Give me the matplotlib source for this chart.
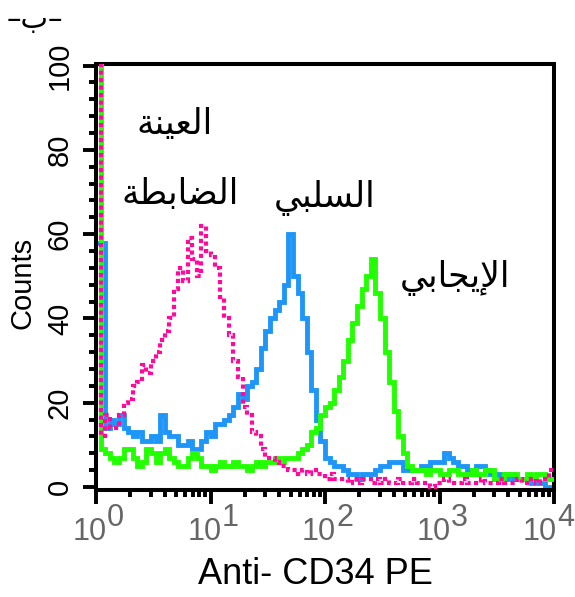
import numpy as np
import matplotlib
matplotlib.use("Agg")
import matplotlib.pyplot as plt
from matplotlib.ticker import LogLocator, MultipleLocator, NullFormatter

# Fluorescence histograms (counts per channel), 100 log channels over 4 decades
control = [
    110, 12, 17, 14, 14, 17, 20, 21, 24, 25,
    29, 27, 30, 32, 35, 37, 40, 47, 52, 49,
    59, 54, 50, 62, 56, 55, 52, 45, 40, 36,
    30, 26, 19, 17, 13, 12, 9, 7, 7, 6,
    5, 5, 4, 4, 3, 4, 3, 4, 3, 3,
    2, 3, 2, 2, 2, 1, 2, 1, 2, 2,
    1, 2, 1, 2, 1, 1, 2, 1, 1, 2,
    1, 1, 1, 0, 1, 1, 2, 1, 1, 1,
    2, 1, 1, 1, 2, 1, 1, 1, 2, 1,
    1, 1, 2, 1, 1, 2, 1, 2, 2, 4,
]
negative = [
    58, 58, 14, 16, 15, 17, 14, 13, 12, 13,
    11, 11, 12, 11, 17, 13, 12, 12, 10, 10,
    11, 9, 9, 11, 13, 12, 15, 15, 16, 17,
    19, 22, 21, 24, 25, 28, 33, 37, 40, 42,
    44, 48, 60, 50, 46, 40, 32, 23, 16, 11,
    7, 6, 5, 5, 4, 3, 3, 2, 3, 3,
    3, 4, 5, 5, 6, 6, 6, 4, 4, 4,
    4, 5, 5, 6, 6, 6, 8, 7, 6, 5,
    5, 4, 3, 5, 5, 4, 3, 2, 3, 2,
    3, 2, 2, 2, 2, 1, 1, 1, 0, 0,
]
positive = [
    110, 9, 8, 7, 6, 7, 9, 9, 7, 5,
    6, 9, 8, 6, 8, 9, 7, 6, 5, 5,
    7, 8, 7, 5, 5, 4, 5, 6, 5, 5,
    6, 5, 5, 4, 5, 6, 5, 6, 6, 7,
    6, 7, 7, 7, 8, 9, 10, 13, 14, 17,
    19, 20, 23, 26, 30, 35, 39, 43, 47, 50,
    54, 46, 40, 32, 25, 18, 12, 8, 5, 4,
    4, 4, 3, 4, 4, 3, 3, 4, 4, 3,
    3, 3, 4, 3, 3, 4, 4, 2, 2, 3,
    3, 3, 2, 2, 3, 2, 3, 3, 2, 2,
]

decade_exponents = [0, 1, 2, 3, 4]
y_major = [0, 20, 40, 60, 80, 100]

# Arabic labels written in visual order with presentation forms (no shaping engine)
label_control_1 = "\ufe94\ufee8\ufef4\ufecc\ufedf\ufe8d"          # العينة
label_control_2 = "\ufe94\ufec4\ufe91\ufe8e\ufec0\ufedf\ufe8d"    # الضابطة
label_negative = "\ufef2\ufe92\ufee0\ufeb4\ufedf\ufe8d"           # السلبي
label_positive = "\ufef2\ufe91\ufe8e\ufea0\ufef3\ufef9\ufe8d"     # الإيجابي
panel_tag = "\u2013\ufe8f\u2013"                                  # -ب-

BLUE = "#1E96F8"
GREEN = "#22FF00"
PINK = "#FF0A9B"

n_bins = len(control)
edges = 10 ** np.linspace(0, decade_exponents[-1], n_bins + 1)

fig = plt.figure(figsize=(5.75, 5.97), dpi=100)
ax = fig.add_axes([0.167, 0.180, 0.7965, 0.713])

ax.stairs(negative, edges, color=BLUE, lw=3.5, baseline=None, zorder=2)
ax.stairs(positive, edges, color=GREEN, lw=3.5, baseline=None, zorder=3)
ax.stairs(control, edges, color=PINK, lw=3.0, linestyle=(0, (1, 0.8)),
          baseline=None, zorder=4)

ax.set_xscale("log")
ax.set_xlim(10 ** decade_exponents[0], 10 ** decade_exponents[-1])
ax.set_ylim(-0.6, 100.4)

for sp in ax.spines.values():
    sp.set_linewidth(2.9)

ax.xaxis.set_major_locator(LogLocator(base=10, numticks=10))
ax.xaxis.set_minor_locator(LogLocator(base=10, subs=np.arange(2, 10), numticks=10))
ax.xaxis.set_major_formatter(NullFormatter())
ax.xaxis.set_minor_formatter(NullFormatter())
ax.set_yticks(y_major)
ax.yaxis.set_minor_locator(MultipleLocator(4))
ax.yaxis.set_major_formatter(NullFormatter())

ax.tick_params(axis="both", which="both", direction="out", width=2.8, color="black")
ax.tick_params(axis="x", which="major", length=10)
ax.tick_params(axis="x", which="minor", length=5)
ax.tick_params(axis="y", which="major", length=9.5)
ax.tick_params(axis="y", which="minor", length=5)

# count labels, set sideways to the left of the ticks
yt = ax.get_yaxis_transform()
for v in y_major:
    ax.annotate(str(v), xy=(0, v), xycoords=yt, xytext=(-26, 0),
                textcoords="offset points", rotation=90, rotation_mode="anchor",
                ha="center", va="center", fontsize=21,
                family="Liberation Sans")

# decade labels: base and exponent at equal size
xt = ax.get_xaxis_transform()
for e in decade_exponents:
    shift = -6 if e == decade_exponents[-1] else 0
    ax.annotate("10", xy=(10.0 ** e, 0), xycoords=xt, xytext=(8 + shift, -20),
                textcoords="offset points", ha="right", va="top",
                fontsize=22, color="#666666", family="Liberation Sans")
    ax.annotate(str(e), xy=(10.0 ** e, 0), xycoords=xt, xytext=(8 + shift, -10),
                textcoords="offset points", ha="left", va="top",
                fontsize=22, color="#666666", family="Liberation Sans")

fig.text(23 / 575, 1 - 283 / 597, "Counts", rotation=90, ha="center",
         va="center", fontsize=21, family="Liberation Sans")
fig.text(315 / 575, 1 - 575 / 597, "Anti- CD34 PE", ha="center", va="center",
         fontsize=26, family="Liberation Sans")

arabic = dict(family="DejaVu Sans", ha="center", va="center", fontsize=25)
fig.text(175 / 575, 1 - 124 / 597, label_control_1, **arabic)
fig.text(180 / 575, 1 - 194 / 597, label_control_2, **arabic)
fig.text(325 / 575, 1 - 198 / 597, label_negative, **arabic)
fig.text(455 / 575, 1 - 278 / 597, label_positive, **arabic)
fig.text(35 / 575, 1 - 20 / 597, panel_tag, family="DejaVu Sans", ha="center",
         va="center", fontsize=21)

fig.savefig("out.png", dpi=100)
